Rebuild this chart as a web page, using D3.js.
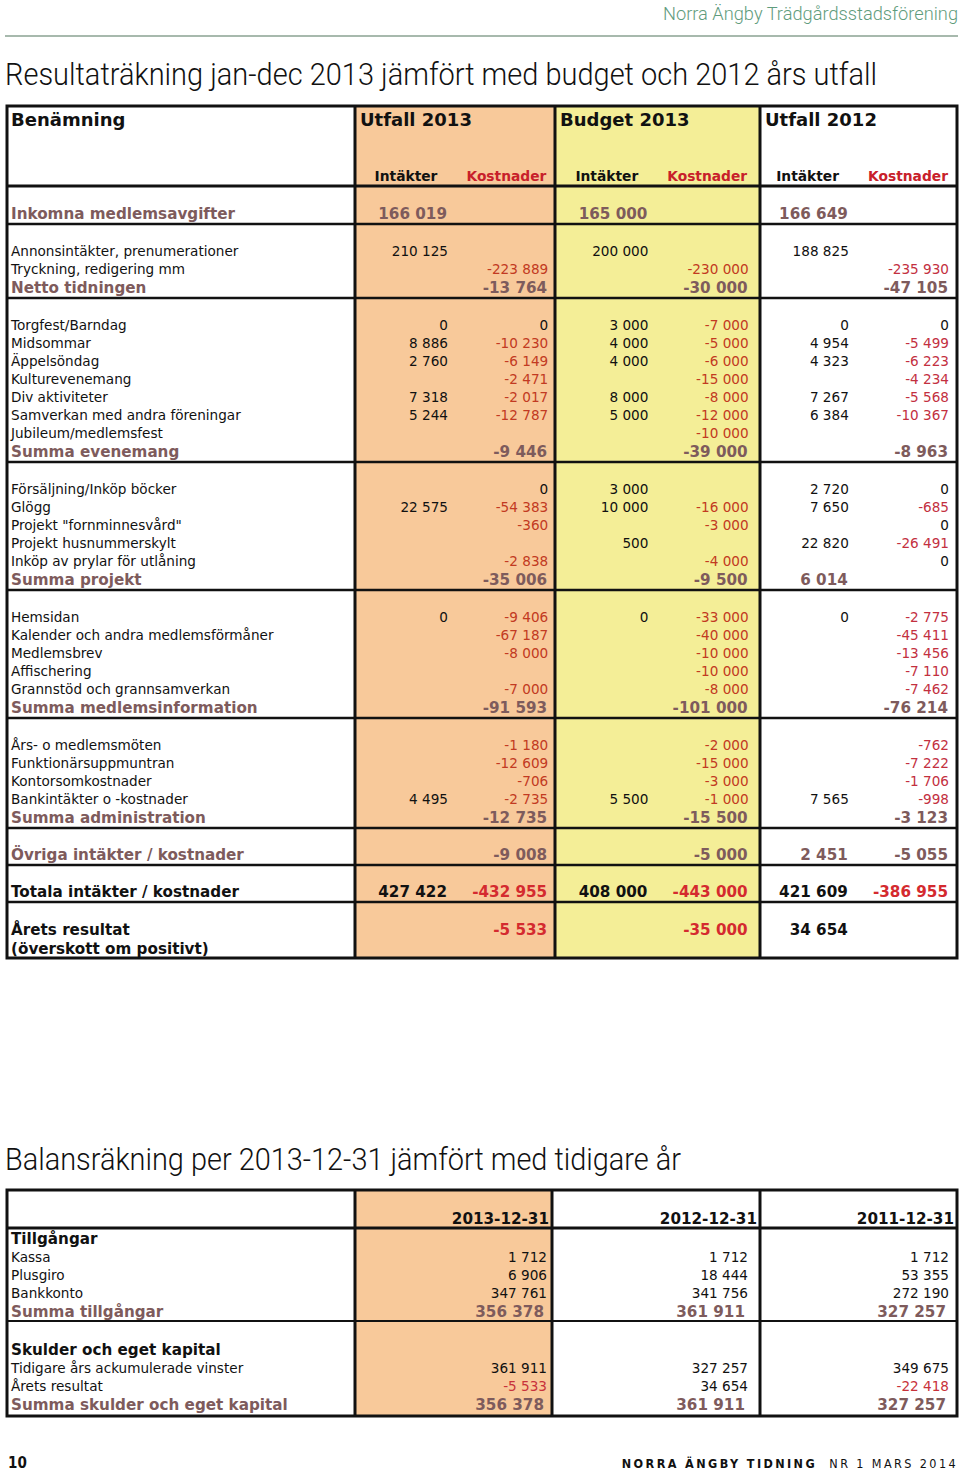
<!DOCTYPE html>
<html>
<head>
<meta charset="utf-8">
<script src="https://cdn.jsdelivr.net/npm/d3@7"></script>
<style>
  body { margin: 0; background: #fff; }
  svg text { font-family: "DejaVu Sans", Verdana, sans-serif; }
  svg text.cond { font-family: "Liberation Sans Narrow", "DejaVu Sans Condensed", sans-serif; }
  svg text.light { font-family: Roboto, "Liberation Sans Narrow", sans-serif; font-weight: 300; }
</style>
</head>
<body>
<div id="container"></div>
<script>
// ---- data: resultaträkning ----
var groups = ["Utfall 2013", "Budget 2013", "Utfall 2012"];
var subCols = ["Intäkter", "Kostnader"];

var inkomna = ["Inkomna medlemsavgifter", 166019, null, 165000, null, 166649, null];

var tidningRows = [
  ["Annonsintäkter, prenumerationer", 210125, null, 200000, null, 188825, null],
  ["Tryckning, redigering mm", null, -223889, null, -230000, null, -235930]
];
var tidningSum = ["Netto tidningen", null, -13764, null, -30000, null, -47105];

var evenemangRows = [
  ["Torgfest/Barndag", 0, 0, 3000, -7000, 0, 0],
  ["Midsommar", 8886, -10230, 4000, -5000, 4954, -5499],
  ["Äppelsöndag", 2760, -6149, 4000, -6000, 4323, -6223],
  ["Kulturevenemang", null, -2471, null, -15000, null, -4234],
  ["Div aktiviteter", 7318, -2017, 8000, -8000, 7267, -5568],
  ["Samverkan med andra föreningar", 5244, -12787, 5000, -12000, 6384, -10367],
  ["Jubileum/medlemsfest", null, null, null, -10000, null, null]
];
var evenemangSum = ["Summa evenemang", null, -9446, null, -39000, null, -8963];

var projektRows = [
  ["Försäljning/Inköp böcker", null, 0, 3000, null, 2720, 0],
  ["Glögg", 22575, -54383, 10000, -16000, 7650, -685],
  ["Projekt \"fornminnesvård\"", null, -360, null, -3000, null, 0],
  ["Projekt husnummerskylt", null, null, 500, null, 22820, -26491],
  ["Inköp av prylar för utlåning", null, -2838, null, -4000, null, 0]
];
var projektSum = ["Summa projekt", null, -35006, null, -9500, 6014, null];

var medlemsRows = [
  ["Hemsidan", 0, -9406, 0, -33000, 0, -2775],
  ["Kalender och andra medlemsförmåner", null, -67187, null, -40000, null, -45411],
  ["Medlemsbrev", null, -8000, null, -10000, null, -13456],
  ["Affischering", null, null, null, -10000, null, -7110],
  ["Grannstöd och grannsamverkan", null, -7000, null, -8000, null, -7462]
];
var medlemsSum = ["Summa medlemsinformation", null, -91593, null, -101000, null, -76214];

var adminRows = [
  ["Års- o medlemsmöten", null, -1180, null, -2000, null, -762],
  ["Funktionärsuppmuntran", null, -12609, null, -15000, null, -7222],
  ["Kontorsomkostnader", null, -706, null, -3000, null, -1706],
  ["Bankintäkter o -kostnader", 4495, -2735, 5500, -1000, 7565, -998]
];
var adminSum = ["Summa administration", null, -12735, null, -15500, null, -3123];

var ovriga = ["Övriga intäkter / kostnader", null, -9008, null, -5000, 2451, -5055];
var totala = ["Totala intäkter / kostnader", 427422, -432955, 408000, -443000, 421609, -386955];
var arets = ["Årets resultat", null, -5533, null, -35000, 34654, null];

// ---- data: balansräkning ----
var balansCols = ["2013-12-31", "2012-12-31", "2011-12-31"];
var tillgangar = [
  ["Kassa", 1712, 1712, 1712],
  ["Plusgiro", 6906, 18444, 53355],
  ["Bankkonto", 347761, 341756, 272190]
];
var summaTillgangar = ["Summa tillgångar", 356378, 361911, 327257];
var skulder = [
  ["Tidigare års ackumulerade vinster", 361911, 327257, 349675],
  ["Årets resultat", -5533, 34654, -22418]
];
var summaSkulder = ["Summa skulder och eget kapital", 356378, 361911, 327257];

// ---- setup ----
var W = 960, H = 1471;
var svg = d3.select("#container").append("svg")
            .attr("width", W).attr("height", H);
svg.append("rect").attr("width", W).attr("height", H).attr("fill", "#fff");

var sv = d3.formatLocale({decimal: ",", thousands: " ", grouping: [3], currency: ["", ""], minus: "-"});
var fmt = sv.format(",d");

var ORANGE = "#f8c99a", YELLOW = "#f4ee97";
var MAUVE = "#7e5b5c", RED = "#c8202a";
var costRed = ["#c23a22", "#c23a22", "#c3303f"];
var FS = 13.6, FB = 15.2;

// column right edges (6 value columns)
var xCol = d3.scaleLinear().domain([0, 5]).range([448, 949]);
var xHead = d3.scaleLinear().domain([0, 5]).range([406, 908]);
var groupEdges = [355, 555, 760, 957];

// ---- page header ----
svg.append("text").attr("class", "light")
   .attr("x", 958).attr("y", 20).attr("text-anchor", "end")
   .attr("font-size", 18).attr("fill", "#5f9c7d")
   .attr("textLength", 295).attr("lengthAdjust", "spacingAndGlyphs")
   .text("Norra Ängby Trädgårdsstadsförening");
svg.append("line").attr("x1", 5).attr("x2", 958).attr("y1", 36).attr("y2", 36)
   .attr("stroke", "#a7b9ad").attr("stroke-width", 2);

svg.append("text").attr("class", "light")
   .attr("x", 5).attr("y", 85).attr("font-size", 31).attr("fill", "#111")
   .attr("textLength", 872).attr("lengthAdjust", "spacingAndGlyphs")
   .text("Resultaträkning jan-dec 2013 jämfört med budget och 2012 års utfall");

// ---- table 1 ----
var T1 = {top: 106, bottom: 958, left: 7, right: 957, head: 186};
var t1 = svg.append("g");

t1.append("rect").attr("x", groupEdges[0]).attr("y", T1.top)
  .attr("width", groupEdges[1] - groupEdges[0]).attr("height", T1.bottom - T1.top).attr("fill", ORANGE);
t1.append("rect").attr("x", groupEdges[1]).attr("y", T1.top)
  .attr("width", groupEdges[2] - groupEdges[1]).attr("height", T1.bottom - T1.top).attr("fill", YELLOW);

// header
t1.append("text").attr("x", 11).attr("y", 126).attr("font-size", 18)
  .attr("font-weight", "bold").attr("fill", "#111").text("Benämning");
t1.selectAll(".grp").data(groups).enter().append("text")
  .attr("x", function(d, i){ return groupEdges[i] + 5; })
  .attr("y", 126).attr("font-size", 18).attr("font-weight", "bold").attr("fill", "#111")
  .text(function(d){ return d; });
var heads = [];
groups.forEach(function(g){ subCols.forEach(function(s){ heads.push(s); }); });
t1.selectAll(".sub").data(heads).enter().append("text")
  .attr("x", function(d, i){ return xHead(i); })
  .attr("y", 181).attr("text-anchor", "middle").attr("font-size", 13.8).attr("font-weight", "bold")
  .attr("fill", function(d){ return d == "Kostnader" ? RED : "#111"; })
  .text(function(d){ return d; });

// build row list with y positions
var rows = [], lines = [];
var y = 214;
function addSection(list, sum) {
  list.forEach(function(r, i){
    rows.push({r: r, y: y, kind: "normal"});
    y += 18;
  });
  if (sum) {
    if (list.length) y += 1;
    rows.push({r: sum, y: y, kind: "sum"});
  } else {
    y -= 18;
  }
  lines.push(y + 10);
  y += 37;
}
addSection([], inkomna);
addSection(tidningRows, tidningSum);
addSection(evenemangRows, evenemangSum);
addSection(projektRows, projektSum);
addSection(medlemsRows, medlemsSum);
addSection(adminRows, adminSum);
addSection([], ovriga);
rows.push({r: totala, y: y, kind: "total"}); lines.push(y + 10); y += 38;
rows.push({r: arets, y: y, kind: "result"});

function cellColor(kind, v, ci) {
  if (kind == "sum") return MAUVE;
  if (kind == "total" || kind == "result") return v < 0 ? "#d42a2f" : "#111";
  return (ci % 2 == 1 && v !== 0) ? costRed[Math.floor(ci / 2)] : "#111";
}

var rowG = t1.selectAll(".row").data(rows).enter().append("g")
  .attr("transform", function(d){ return "translate(0," + d.y + ")"; });

rowG.append("text").attr("x", 11).attr("dy", "0.36em")
  .attr("font-size", function(d){ return d.kind == "normal" ? FS : FB; })
  .attr("font-weight", function(d){ return d.kind == "normal" ? "normal" : "bold"; })
  .attr("fill", function(d){ return d.kind == "sum" ? MAUVE : "#111"; })
  .text(function(d){ return d.r[0]; });

rowG.filter(function(d){ return d.kind == "result"; })
  .append("text").attr("x", 11).attr("y", 19).attr("dy", "0.36em")
  .attr("font-size", FB).attr("font-weight", "bold").attr("fill", "#111")
  .text("(överskott om positivt)");

rowG.each(function(d){
  var cells = d.r.slice(1).map(function(v, i){ return {v: v, i: i}; })
                 .filter(function(c){ return c.v !== null; });
  d3.select(this).selectAll(".v").data(cells).enter().append("text")
    .attr("x", function(c){ return xCol(c.i) - (d.kind == "normal" ? 0 : 1); })
    .attr("dy", "0.36em").attr("text-anchor", "end")
    .attr("font-size", d.kind == "normal" ? FS : FB)
    .attr("font-weight", d.kind == "normal" ? "normal" : "bold")
    .attr("fill", function(c){ return cellColor(d.kind, c.v, c.i); })
    .text(function(c){ return fmt(c.v); });
});

// borders
t1.selectAll(".hl").data([T1.head].concat(lines)).enter().append("line")
  .attr("x1", T1.left).attr("x2", T1.right)
  .attr("y1", function(d){ return d; }).attr("y2", function(d){ return d; })
  .attr("stroke", "#111").attr("stroke-width", function(d, i){ return i == 0 ? 3 : 2.5; });
t1.selectAll(".vl").data(groupEdges.slice(0, 3)).enter().append("line")
  .attr("x1", function(d){ return d; }).attr("x2", function(d){ return d; })
  .attr("y1", T1.top).attr("y2", T1.bottom)
  .attr("stroke", "#111").attr("stroke-width", 3);
t1.append("rect").attr("x", T1.left).attr("y", T1.top)
  .attr("width", T1.right - T1.left).attr("height", T1.bottom - T1.top)
  .attr("fill", "none").attr("stroke", "#111").attr("stroke-width", 3);

// ---- table 2 ----
svg.append("text").attr("class", "light")
   .attr("x", 5).attr("y", 1170).attr("font-size", 31).attr("fill", "#111")
   .attr("textLength", 676).attr("lengthAdjust", "spacingAndGlyphs")
   .text("Balansräkning per 2013-12-31 jämfört med tidigare år");

var T2 = {top: 1190, bottom: 1416, left: 7, right: 957, head: 1228, mid: 1321};
var bEdges = [355, 552, 760, 957];
var xB = d3.scaleLinear().domain([0, 2]).range([547, 949]);
var t2 = svg.append("g");

t2.append("rect").attr("x", bEdges[0]).attr("y", T2.top)
  .attr("width", bEdges[1] - bEdges[0]).attr("height", T2.bottom - T2.top).attr("fill", ORANGE);

t2.selectAll(".bh").data(balansCols).enter().append("text")
  .attr("x", function(d, i){ return bEdges[i + 1] - 3; }).attr("y", 1224)
  .attr("text-anchor", "end").attr("font-size", FB).attr("font-weight", "bold").attr("fill", "#111")
  .text(function(d){ return d; });

var bRows = [];
var by = 1239;
bRows.push({r: ["Tillgångar"], y: by, kind: "title"});
tillgangar.forEach(function(r){ by += 18; bRows.push({r: r, y: by, kind: "normal"}); });
by += 19; bRows.push({r: summaTillgangar, y: by, kind: "sum"});
by += 38; bRows.push({r: ["Skulder och eget kapital"], y: by, kind: "title"});
skulder.forEach(function(r){ by += 18; bRows.push({r: r, y: by, kind: "normal"}); });
by += 19; bRows.push({r: summaSkulder, y: by, kind: "sum"});

var bG = t2.selectAll(".brow").data(bRows).enter().append("g")
  .attr("transform", function(d){ return "translate(0," + d.y + ")"; });
bG.append("text").attr("x", 11).attr("dy", "0.36em")
  .attr("font-size", function(d){ return d.kind == "normal" ? FS : FB; })
  .attr("font-weight", function(d){ return d.kind == "normal" ? "normal" : "bold"; })
  .attr("fill", function(d){ return d.kind == "sum" ? MAUVE : "#111"; })
  .text(function(d){ return d.r[0]; });
bG.each(function(d){
  d3.select(this).selectAll(".v").data(d.r.slice(1)).enter().append("text")
    .attr("x", function(v, i){ return xB(i) - (d.kind == "sum" ? 3 : 0); })
    .attr("dy", "0.36em").attr("text-anchor", "end")
    .attr("font-size", d.kind == "normal" ? FS : FB)
    .attr("font-weight", d.kind == "normal" ? "normal" : "bold")
    .attr("fill", function(v){ return d.kind == "sum" ? MAUVE : (v < 0 ? "#c8323a" : "#111"); })
    .text(function(v){ return fmt(v); });
});

t2.selectAll(".hl").data([T2.head, T2.mid]).enter().append("line")
  .attr("x1", T2.left).attr("x2", T2.right)
  .attr("y1", function(d){ return d; }).attr("y2", function(d){ return d; })
  .attr("stroke", "#111").attr("stroke-width", function(d, i){ return i == 0 ? 3 : 2; });
t2.selectAll(".vl").data(bEdges.slice(0, 3)).enter().append("line")
  .attr("x1", function(d){ return d; }).attr("x2", function(d){ return d; })
  .attr("y1", T2.top).attr("y2", T2.bottom)
  .attr("stroke", "#111").attr("stroke-width", 3);
t2.append("rect").attr("x", T2.left).attr("y", T2.top)
  .attr("width", T2.right - T2.left).attr("height", T2.bottom - T2.top)
  .attr("fill", "none").attr("stroke", "#111").attr("stroke-width", 3);

// ---- footer ----
svg.append("text").attr("class", "cond").attr("x", 8).attr("y", 1468)
   .attr("font-size", 15).attr("font-weight", "bold").attr("fill", "#111").text("10");
var foot = svg.append("text").attr("class", "cond").attr("x", 958).attr("y", 1468)
   .attr("text-anchor", "end").attr("font-size", 12.5).attr("letter-spacing", 2.4).attr("fill", "#111");
foot.append("tspan").attr("font-weight", "bold").text("NORRA ÄNGBY TIDNING ");
foot.append("tspan").attr("dx", 6).text("NR 1 MARS 2014");
</script>
</body>
</html>
